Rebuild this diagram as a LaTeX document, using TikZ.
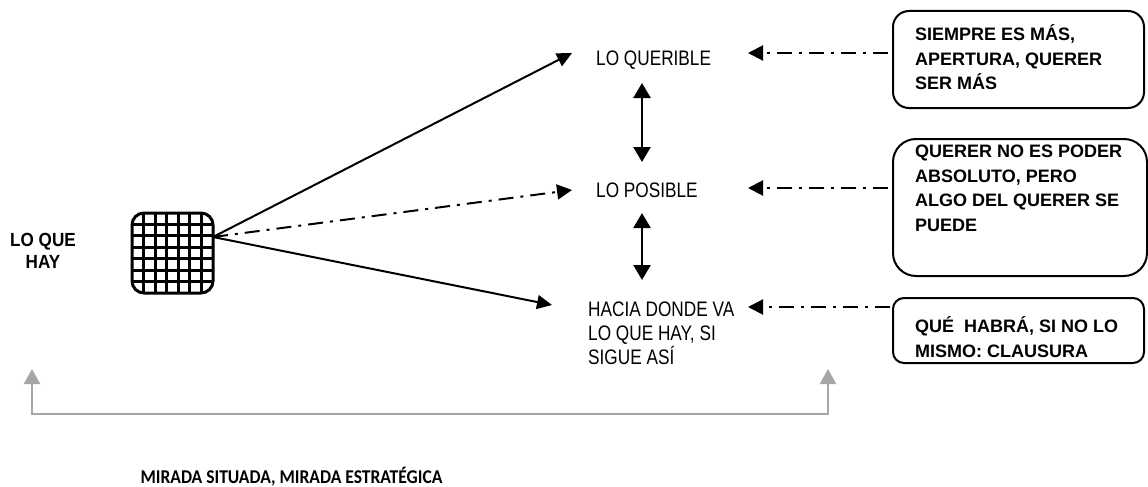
\documentclass[tikz,border=0pt]{standalone}
\usepackage{fontspec}
\setmainfont{Liberation Sans}
\newfontfamily\narrowfont{Liberation Sans}[FakeStretch=0.82]
\newfontfamily\hayfont{Liberation Sans}[FakeStretch=0.9]
\newfontfamily\calfont{Carlito}[FakeStretch=0.9]
\usetikzlibrary{arrows.meta,positioning}

\tikzset{
  plain/.style = {font=\narrowfont\fontsize{21}{24}\selectfont, inner sep=0pt, align=left},
  note/.style = {font=\bfseries\fontsize{18}{24.5}\selectfont, inner sep=0pt, align=left},
  noteframe/.style = {draw, line width=2pt, rounded corners=#1, inner sep=0pt, anchor=north west},
  gridbox/.style = {draw, fill=white, line width=3pt, rounded corners=12pt, inner sep=0pt,
    minimum width=81pt, minimum height=80pt,
    path picture={
      \foreach \k in {1,...,6} {
        \draw[line width=2.8pt] ([xshift=\k*11.57pt]path picture bounding box.north west) -- ([xshift=\k*11.57pt]path picture bounding box.south west);
        \draw[line width=2.8pt] ([yshift=-\k*11.43pt]path picture bounding box.north west) -- ([yshift=-\k*11.43pt]path picture bounding box.north east);
      }}},
  solidarrow/.style = {line width=2pt, -{Triangle[length=15pt, width=14pt]}},
  dotarrow/.style = {line width=2pt, dash pattern=on 15pt off 7pt on 3pt off 7pt, -{Triangle[length=15pt, width=15pt]}},
  twoway/.style = {line width=2.5pt, {Triangle[length=15pt, width=17pt]}-{Triangle[length=15pt, width=17pt]}},
  greyarrow/.style = {draw=black!35, line width=2.5pt, {Triangle[length=15pt, width=16pt]}-{Triangle[length=15pt, width=16pt]}}
}

\begin{document}
\begin{tikzpicture}[x = 1pt, y = -1pt]
\useasboundingbox (0,0) rectangle (1148,487);

\node[font=\hayfont\bfseries\fontsize{19}{22}\selectfont, inner sep=0pt, align=center, anchor=north] (hay) at (43,233) {LO QUE\\HAY};
\node[gridbox] (sq) at (172.5,253) {};

\node[plain, anchor=base west] (queri) at (596,66) {LO QUERIBLE};
\node[plain, anchor=base west] (posib) at (596,197) {LO POSIBLE};
\node[plain, anchor=north west] (hacia) at (588,302) {HACIA DONDE VA\\LO QUE HAY, SI\\SIGUE ASÍ};

\node[noteframe=16pt, minimum width=251pt, minimum height=97pt] (b1) at (892,10) {};
\node[noteframe=23pt, minimum width=254pt, minimum height=137pt] (b2) at (892,138) {};
\node[noteframe=11pt, minimum width=251pt, minimum height=65pt] (b3) at (892,297) {};
\node[note, anchor=north west] (t1) at (915,24.5) {SIEMPRE ES MÁS,\\APERTURA, QUERER\\SER MÁS};
\node[note, anchor=north west] (t2) at (915,145) {QUERER NO ES PODER\\ABSOLUTO, PERO\\ALGO DEL QUERER SE\\PUEDE};
\node[note, anchor=north west] (t3) at (915,316.5) {QUÉ~ HABRÁ, SI NO LO\\MISMO: CLAUSURA};

\node[font=\calfont\bfseries\fontsize{19.5}{24}\selectfont, inner sep=0pt, anchor=base] (mirada) at (291.5,483) {MIRADA SITUADA, MIRADA ESTRATÉGICA};

\coordinate (o) at (213,237);
\coordinate (aq) at (572,53);
\coordinate (ap) at (572,190);
\coordinate (ah) at (552,305);
\coordinate (tq) at (748,53);
\coordinate (tp) at (748,188);
\coordinate (th) at (748,307);
\coordinate (u1) at (642,83);
\coordinate (d1) at (642,162);
\coordinate (u2) at (642,213);
\coordinate (d2) at (642,280);
\coordinate (gl) at (32,369);
\coordinate (gr) at (828,369);

\draw[solidarrow] (o) -- (aq);
\draw[dotarrow] (o) -- (ap);
\draw[solidarrow] (o) -- (ah);
\draw[twoway] (u1) -- (d1);
\draw[twoway] (u2) -- (d2);
\draw[dotarrow, shorten <=4pt] (b1.west |- tq) -- (tq);
\draw[dotarrow, shorten <=4pt] (b2.west |- tp) -- (tp);
\draw[dotarrow, shorten <=2pt] (b3.west |- th) -- (th);
\draw[greyarrow] (gl) -- ++(0,45) -| (gr);
\end{tikzpicture}
\end{document}
